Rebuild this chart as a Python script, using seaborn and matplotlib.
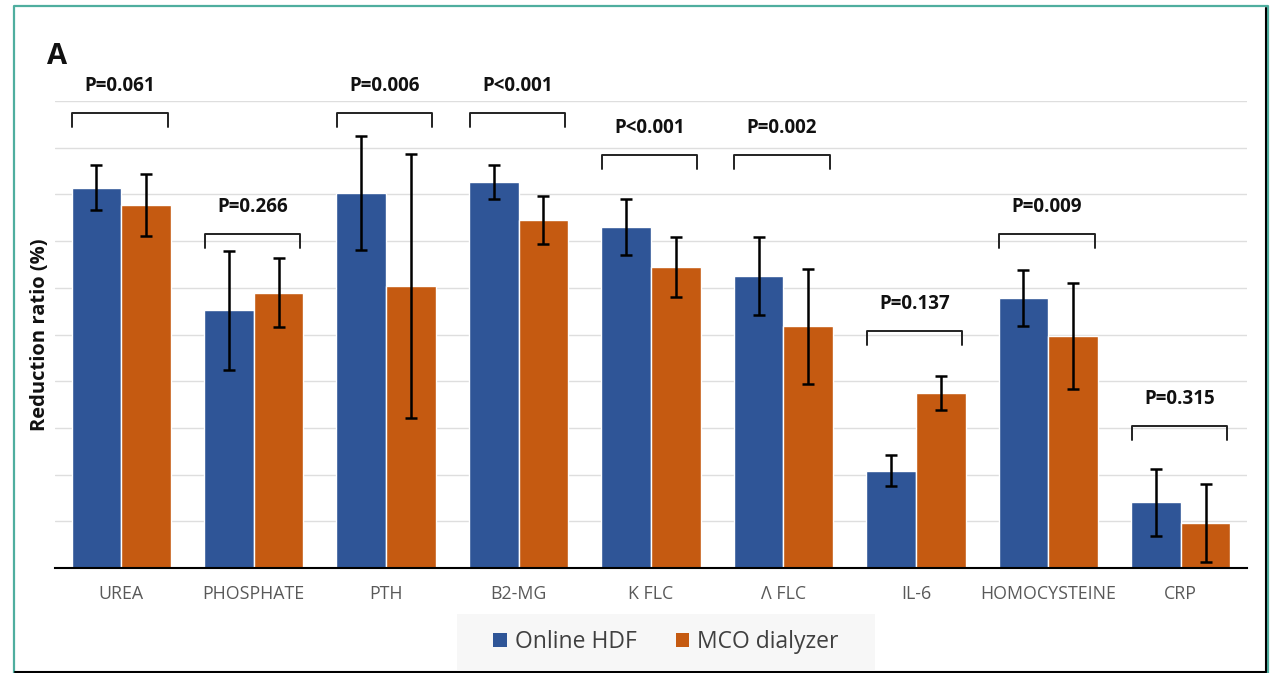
import numpy as np
import pandas as pd
import seaborn as sns
import matplotlib
matplotlib.use("Agg")
import matplotlib.pyplot as plt
from matplotlib.patches import Rectangle, Patch
from matplotlib.lines import Line2D

categories = ["UREA", "PHOSPHATE", "PTH", "B2-MG", "K FLC", "Λ FLC", "IL-6", "HOMOCYSTEINE", "CRP"]
series = ["Online HDF", "MCO dialyzer"]
hdf_mean = [81.4, 55.2, 80.3, 82.7, 73.0, 62.5, 20.8, 57.8, 14.1]
hdf_sd = [4.8, 12.7, 12.3, 3.6, 6.0, 8.3, 3.3, 6.0, 7.2]
mco_mean = [77.7, 58.9, 60.4, 74.5, 64.5, 51.8, 37.5, 49.7, 9.6]
mco_sd = [6.6, 7.4, 28.3, 5.2, 6.4, 12.3, 3.7, 11.4, 8.3]
p_labels = ["P=0.061", "P=0.266", "P=0.006", "P<0.001", "P<0.001", "P=0.002", "P=0.137", "P=0.009", "P=0.315"]
bracket_level = [97.4, 71.5, 97.4, 97.4, 88.4, 88.4, 50.7, 71.5, 30.4]

BLUE = "#2F5597"
ORANGE = "#C55A11"
W, H = 1281, 673

df = pd.DataFrame({
    "category": categories * 2,
    "group": [series[0]] * len(categories) + [series[1]] * len(categories),
    "value": hdf_mean + mco_mean,
})
sds = [hdf_sd, mco_sd]

sns.set_theme(style="white")
plt.rcParams['font.family'] = ['Open Sans', 'DejaVu Sans']

fig = plt.figure(figsize=(W / 100, H / 100), dpi=100)
ax = fig.add_axes([55 / W, 105 / H, 1192 / W, 467 / H])

sns.barplot(data=df, x="category", y="value", hue="group", order=categories,
            hue_order=series, palette=[BLUE, ORANGE], width=0.75, errorbar=None,
            saturation=1, edgecolor="white", linewidth=1, legend=False, ax=ax)

for cont, sd in zip(ax.containers, sds):
    xs = [b.get_x() + b.get_width() / 2 for b in cont]
    ys = [b.get_height() for b in cont]
    ax.errorbar(xs, ys, yerr=sd, fmt="none", ecolor="black", elinewidth=1.8,
                capsize=4, capthick=1.8, zorder=5)

for i, (lab, lvl) in enumerate(zip(p_labels, bracket_level)):
    x0, x1 = i - 0.37, i + 0.35
    ax.plot([x0, x0, x1, x1], [lvl - 3.0, lvl, lvl, lvl - 3.0], color="#222222",
            lw=1.4, clip_on=False, zorder=6)
    ax.text(i - 0.01, lvl + 5.8, lab, ha="center", va="center", fontsize=13.5,
            fontweight="bold", color="#111111", clip_on=False)

ax.set_ylim(0, 100)
ax.set_xlim(-0.5, len(categories) - 0.5)
ax.set_yticks(np.arange(0, 101, 10))
ax.set_yticklabels([])
ax.yaxis.grid(True, color="#dedede", lw=1)
ax.set_axisbelow(True)
for s in ["top", "right", "left"]:
    ax.spines[s].set_visible(False)
ax.spines["bottom"].set_color("black")
ax.spines["bottom"].set_linewidth(1.5)
ax.spines["bottom"].set_zorder(7)
ax.tick_params(axis="x", length=0, pad=12, labelsize=12.8, labelcolor="#595959")
ax.tick_params(axis="y", length=0)
ax.set_xlabel("")
ax.set_ylabel("")

fig.text(40 / W, 1 - 335 / H, "Reduction ratio (%)", rotation=90, ha="center", va="center",
         fontsize=14.5, fontweight="bold", color="#111111")
fig.text(47 / W, 1 - 57 / H, "A", ha="left", va="center", fontsize=21,
         fontweight="bold", color="#111111")

# legend background
fig.patches.append(Rectangle((457 / W, 3 / H), 418 / W, 56 / H, transform=fig.transFigure,
                             facecolor="#f7f7f7", edgecolor="none", zorder=0))
handles = [Patch(facecolor=BLUE, edgecolor="none"), Patch(facecolor=ORANGE, edgecolor="none")]
fig.legend(handles, series, loc="center", bbox_to_anchor=(666 / W, 1 - 642 / H), ncol=2,
           frameon=False, fontsize=16.5, handlelength=0.6, handleheight=0.6,
           handletextpad=0.35, columnspacing=1.7, labelcolor="#404040")

# outer frame
fig.add_artist(Line2D([14 / W, 14 / W, 1268 / W, 1268 / W], [0, 1 - 6 / H, 1 - 6 / H, 0],
                      transform=fig.transFigure, color="#4fae9f", lw=1.6))
fig.add_artist(Line2D([1265.5 / W, 1265.5 / W], [1 - 8 / H, 1.5 / H],
                      transform=fig.transFigure, color="black", lw=1.5))
fig.add_artist(Line2D([15 / W, 1266 / W], [1.5 / H, 1.5 / H],
                      transform=fig.transFigure, color="black", lw=1.5))

fig.savefig("out.png", dpi=100, facecolor="white")
